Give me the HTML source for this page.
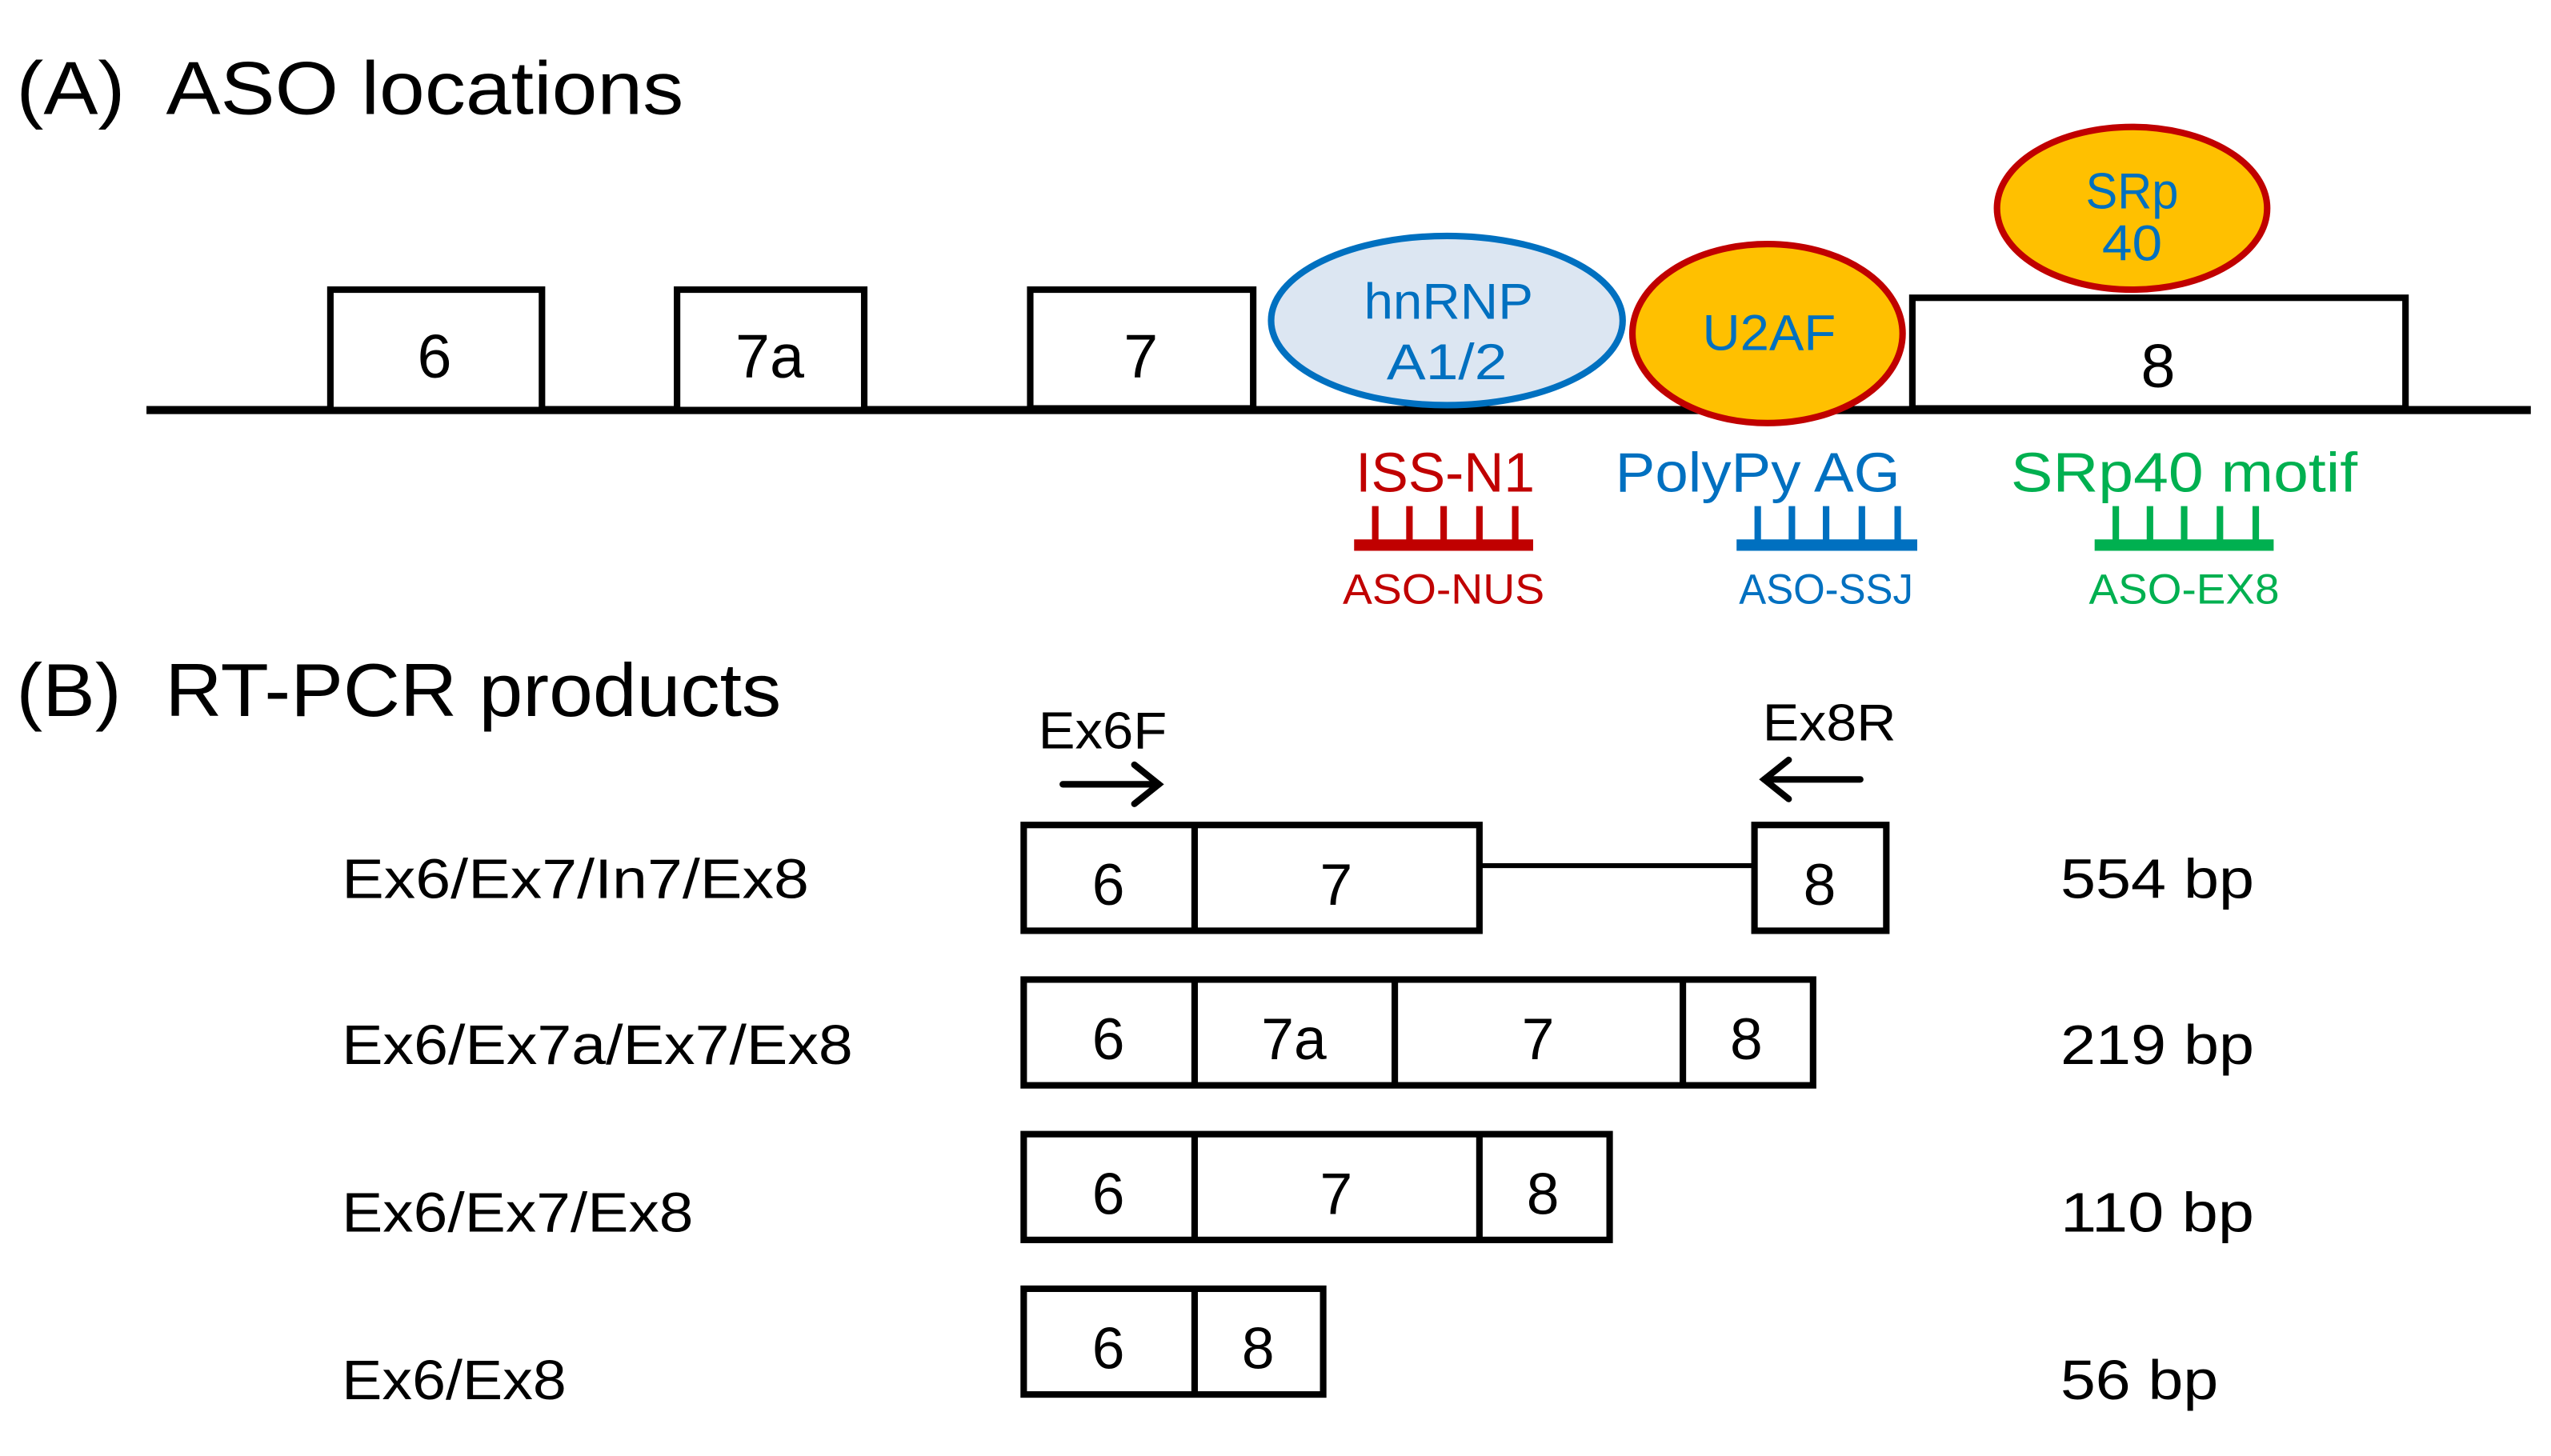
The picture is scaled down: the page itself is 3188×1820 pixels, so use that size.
<!DOCTYPE html>
<html><head><meta charset="utf-8"><style>html,body{margin:0;padding:0;background:#fff}svg{display:block}</style></head>
<body>
<svg xmlns="http://www.w3.org/2000/svg" width="3188" height="1820" viewBox="0 0 1567.4 894.8" preserveAspectRatio="none" font-family="Liberation Sans, sans-serif">
<rect width="1568" height="895" fill="#fff"/>
<text x="10" y="70" font-size="46" textLength="410" lengthAdjust="spacingAndGlyphs">(A)&#160; ASO locations</text>
<text x="10" y="440" font-size="46" textLength="470" lengthAdjust="spacingAndGlyphs">(B)&#160; RT-PCR products</text>
<!-- gene line -->
<line x1="90" y1="252" x2="1555" y2="252" stroke="#000" stroke-width="5"/>
<g fill="#fff" stroke="#000" stroke-width="4">
<rect x="203" y="178" width="130" height="74"/>
<rect x="416" y="178" width="115" height="74"/>
<rect x="633" y="178" width="137" height="73"/>
<rect x="1175" y="183" width="303" height="68"/>
</g>
<g font-size="38" text-anchor="middle">
<text x="267" y="232">6</text>
<text x="473" y="232">7a</text>
<text x="701" y="232">7</text>
<text x="1326" y="238">8</text>
</g>
<ellipse cx="889" cy="197" rx="108" ry="52" fill="#dce6f2" stroke="#0070c0" stroke-width="4"/>
<ellipse cx="1086" cy="205" rx="83" ry="55" fill="#ffc000" stroke="#c00000" stroke-width="4"/>
<ellipse cx="1310" cy="128" rx="83" ry="50" fill="#ffc000" stroke="#c00000" stroke-width="4"/>
<g font-size="31" text-anchor="middle" fill="#0070c0">
<text x="890" y="196" textLength="104" lengthAdjust="spacingAndGlyphs">hnRNP</text>
<text x="889" y="233" textLength="74" lengthAdjust="spacingAndGlyphs">A1/2</text>
<text x="1087" y="215" textLength="82" lengthAdjust="spacingAndGlyphs">U2AF</text>
<text x="1310" y="128" textLength="57" lengthAdjust="spacingAndGlyphs">SRp</text>
<text x="1310" y="160" textLength="37" lengthAdjust="spacingAndGlyphs">40</text>
</g>
<g font-size="34" text-anchor="middle">
<text x="888" y="302" fill="#c00000" textLength="110" lengthAdjust="spacingAndGlyphs">ISS-N1</text>
<text x="1080" y="302" fill="#0070c0" textLength="175" lengthAdjust="spacingAndGlyphs">PolyPy AG</text>
<text x="1342" y="302" fill="#00b050" textLength="213" lengthAdjust="spacingAndGlyphs">SRp40 motif</text>
</g>
<g font-size="26" text-anchor="middle">
<text x="887" y="371" fill="#c00000" textLength="124" lengthAdjust="spacingAndGlyphs">ASO-NUS</text>
<text x="1122" y="371" fill="#0070c0" textLength="107" lengthAdjust="spacingAndGlyphs">ASO-SSJ</text>
<text x="1342" y="371" fill="#00b050" textLength="117" lengthAdjust="spacingAndGlyphs">ASO-EX8</text>
</g>
<g stroke="#c00000" stroke-width="4">
<line x1="832" y1="335" x2="942" y2="335" stroke-width="7"/>
<line x1="845" y1="311" x2="845" y2="335"/><line x1="866" y1="311" x2="866" y2="335"/><line x1="887" y1="311" x2="887" y2="335"/><line x1="909" y1="311" x2="909" y2="335"/><line x1="931" y1="311" x2="931" y2="335"/>
</g>
<g stroke="#0070c0" stroke-width="4">
<line x1="1067" y1="335" x2="1178" y2="335" stroke-width="7"/>
<line x1="1080" y1="311" x2="1080" y2="335"/><line x1="1101" y1="311" x2="1101" y2="335"/><line x1="1122" y1="311" x2="1122" y2="335"/><line x1="1144" y1="311" x2="1144" y2="335"/><line x1="1166" y1="311" x2="1166" y2="335"/>
</g>
<g stroke="#00b050" stroke-width="4">
<line x1="1287" y1="335" x2="1397" y2="335" stroke-width="7"/>
<line x1="1300" y1="311" x2="1300" y2="335"/><line x1="1321" y1="311" x2="1321" y2="335"/><line x1="1342" y1="311" x2="1342" y2="335"/><line x1="1364" y1="311" x2="1364" y2="335"/><line x1="1386" y1="311" x2="1386" y2="335"/>
</g>
<text x="638" y="460" font-size="32" textLength="79" lengthAdjust="spacingAndGlyphs">Ex6F</text>
<text x="1083" y="455" font-size="32" textLength="82" lengthAdjust="spacingAndGlyphs">Ex8R</text>
<g stroke="#000" stroke-width="4" fill="none" stroke-linecap="round">
<line x1="653" y1="482" x2="712" y2="482"/><polyline points="697,470 712,482 697,494"/>
<line x1="1143" y1="479" x2="1084" y2="479"/><polyline points="1099,467 1084,479 1099,491"/>
</g>
<g font-size="34">
<text x="210" y="552" textLength="287" lengthAdjust="spacingAndGlyphs">Ex6/Ex7/In7/Ex8</text>
<text x="210" y="654" textLength="314" lengthAdjust="spacingAndGlyphs">Ex6/Ex7a/Ex7/Ex8</text>
<text x="210" y="757" textLength="216" lengthAdjust="spacingAndGlyphs">Ex6/Ex7/Ex8</text>
<text x="210" y="860" textLength="138" lengthAdjust="spacingAndGlyphs">Ex6/Ex8</text>
<text x="1266" y="552" textLength="119" lengthAdjust="spacingAndGlyphs">554 bp</text>
<text x="1266" y="654" textLength="119" lengthAdjust="spacingAndGlyphs">219 bp</text>
<text x="1266" y="757" textLength="119" lengthAdjust="spacingAndGlyphs">110 bp</text>
<text x="1266" y="860" textLength="97" lengthAdjust="spacingAndGlyphs">56 bp</text>
</g>
<g fill="none" stroke="#000" stroke-width="4">
<line x1="909" y1="532" x2="1078" y2="532" stroke-width="3"/>
<rect x="629" y="507" width="280" height="65"/><line x1="734" y1="507" x2="734" y2="572"/>
<rect x="1078" y="507" width="81" height="65"/>
<rect x="629" y="602" width="485" height="65"/><line x1="734" y1="602" x2="734" y2="667"/><line x1="857" y1="602" x2="857" y2="667"/><line x1="1034" y1="602" x2="1034" y2="667"/>
<rect x="629" y="697" width="360" height="65"/><line x1="734" y1="697" x2="734" y2="762"/><line x1="909" y1="697" x2="909" y2="762"/>
<rect x="629" y="792" width="184" height="65"/><line x1="734" y1="792" x2="734" y2="857"/>
</g>
<g font-size="36" text-anchor="middle">
<text x="681" y="556">6</text><text x="821" y="556">7</text><text x="1118" y="556">8</text>
<text x="681" y="651">6</text><text x="795" y="651">7a</text><text x="945" y="651">7</text><text x="1073" y="651">8</text>
<text x="681" y="746">6</text><text x="821" y="746">7</text><text x="948" y="746">8</text>
<text x="681" y="841">6</text><text x="773" y="841">8</text>
</g>
</svg>
</body></html>
